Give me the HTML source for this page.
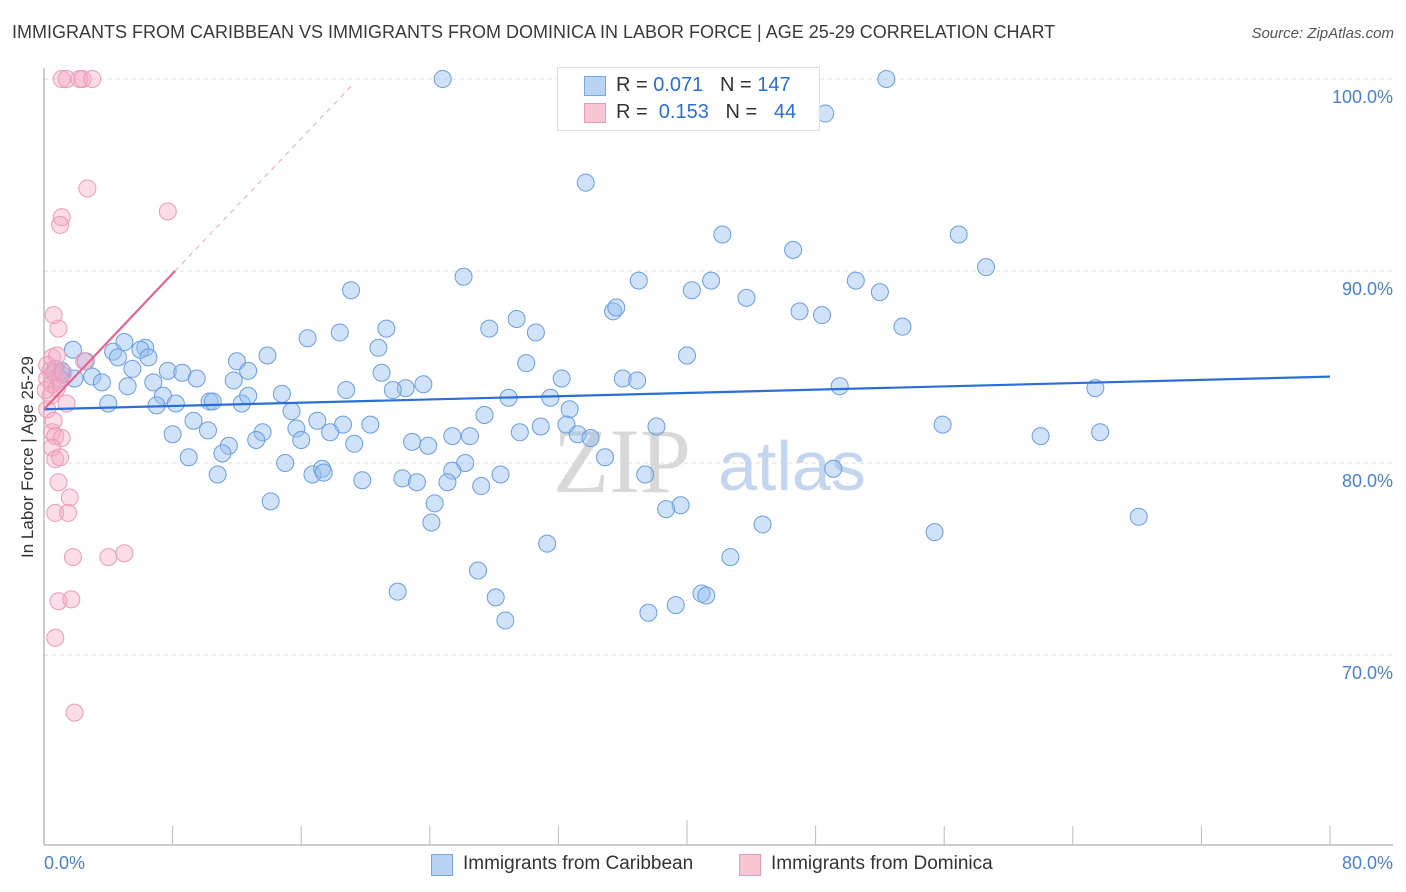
<!DOCTYPE html>
<html><head><meta charset="utf-8">
<style>
body{margin:0;background:#fff;font-family:"Liberation Sans",sans-serif;}
#wrap{position:relative;width:1406px;height:892px;overflow:hidden;}
.t{position:absolute;white-space:nowrap;}
</style></head>
<body>
<div id="wrap">
<div class="t" style="left:12px;top:22px;font-size:18px;color:#3a3a3a;">IMMIGRANTS FROM CARIBBEAN VS IMMIGRANTS FROM DOMINICA IN LABOR FORCE | AGE 25-29 CORRELATION CHART</div>
<div class="t" style="right:12px;top:25px;font-size:15px;color:#555;font-style:italic;">Source: ZipAtlas.com</div>
<svg id="chart" width="1406" height="892" style="position:absolute;left:0;top:0"></svg>
</div>
<script>
const blueX=[24.8,52.4,48.6,33.7,42.2,56.9,46.6,26.1,58.6,37.0,41.5,40.3,19.1,52.0,43.7,50.5,35.4,35.6,47.0,48.4,29.4,53.4,27.7,18.4,21.3,16.4,30.6,20.8,1.8,40.0,4.3,5.0,6.3,6.0,6.5,13.9,12.0,30.0,2.6,4.6,5.5,7.7,8.6,12.7,9.5,11.8,21.0,0.6,1.1,3.0,1.0,3.6,5.2,6.8,23.6,22.5,21.7,18.8,14.8,36.0,36.9,32.2,49.5,65.4,28.9,31.5,7.4,8.2,4.0,7.0,10.3,10.5,12.3,12.7,15.4,27.4,32.7,17.0,9.3,18.6,10.2,15.7,20.3,17.8,13.6,29.6,30.9,32.5,38.1,55.9,62.0,65.7,8.0,22.9,23.9,25.4,26.5,33.2,34.0,16.0,19.3,13.2,11.5,11.1,9.0,15.0,34.9,26.2,10.8,16.7,17.3,17.4,28.4,25.4,22.3,23.2,19.8,25.1,27.2,37.4,49.1,24.3,14.1,39.6,38.7,68.1,44.7,24.1,55.4,31.3,42.7,27.0,22.0,28.1,40.9,41.2,39.3,37.6,28.7,1.9,1.1,0.7];
const blueY=[100,100,98.2,94.6,91.9,91.9,91.1,89.7,90.2,89.5,89.5,89.0,89.0,88.9,88.6,89.5,87.9,88.1,87.9,87.7,87.5,87.1,87.0,86.8,87.0,86.5,86.8,86.0,85.9,85.6,85.8,86.3,86.0,85.9,85.5,85.6,85.3,85.2,85.3,85.5,84.9,84.8,84.7,84.8,84.4,84.3,84.7,84.7,84.6,84.5,84.4,84.2,84.0,84.2,84.1,83.9,83.8,83.8,83.6,84.4,84.3,84.4,84.0,83.9,83.4,83.4,83.5,83.1,83.1,83.0,83.2,83.2,83.1,83.5,82.7,82.5,82.8,82.2,82.2,82.0,81.7,81.8,82.0,81.6,81.6,81.6,81.9,82.0,81.9,82.0,81.4,81.6,81.5,81.1,80.9,81.4,81.4,81.5,81.3,81.2,81.0,81.2,80.9,80.5,80.3,80.0,80.3,80.0,79.4,79.4,79.7,79.5,79.4,79.6,79.2,79.0,79.1,79.0,78.8,79.4,79.7,77.9,78.0,77.8,77.6,77.2,76.8,76.9,76.4,75.8,75.1,74.4,73.3,73.0,73.2,73.1,72.6,72.2,71.8,84.4,84.8,84.9];
const pinkX=[1.1,1.4,2.2,2.4,3.0,2.7,7.7,1.1,1.0,0.6,0.9,0.5,0.8,2.5,0.4,0.7,0.2,1.0,0.5,0.8,1.4,0.2,0.5,0.7,1.1,0.5,0.7,1.0,0.9,1.6,0.7,1.5,1.8,4.0,5.0,0.9,1.7,0.7,1.9,0.4,0.2,0.6,0.1,1.2];
const pinkY=[100,100,100,100,100,94.3,93.1,92.8,92.4,87.7,87.0,85.5,85.6,85.3,84.8,84.7,84.4,84.3,84.1,83.9,83.1,82.8,81.6,81.4,81.3,80.8,80.2,80.3,79.0,78.2,77.4,77.4,75.1,75.1,75.3,72.8,72.9,70.9,67.0,83.5,85.1,82.2,83.8,84.7];
const blueTrend=[82.8,84.5];
const pinkTrend=[82.8,90.0,99.8];
const pinkTrendX=[0,8.15,19.3];
const yTicks=[100,90,80,70];
const yTickLabels=["100.0%","90.0%","80.0%","70.0%"];
const xTicks=[0,8,16,24,32,40,48,56,64,72,80];

const X=v=>44+v*(1286/80);
const Y=v=>79+(100-v)*19.2;
const svg=document.getElementById('chart');
const NS='http://www.w3.org/2000/svg';
function mk(tag,attrs,parent){const e=document.createElementNS(NS,tag);for(const k in attrs)e.setAttribute(k,attrs[k]);(parent||svg).appendChild(e);return e;}

// gridlines + y labels
yTicks.forEach((t,i)=>{
  const g=mk('line',{x1:44,x2:1393,y1:Y(t),y2:Y(t),stroke:'#dcdcdc','stroke-dasharray':'4,4','stroke-width':1});
  
  
  const l=mk('text',{x:1393,y:Y(t)+24,'text-anchor':'end','font-size':18,fill:'#4a7fd4','font-family':'Liberation Sans, sans-serif'});
  l.textContent=yTickLabels[i];
  
  
});
// axes
const ax=mk('line',{x1:44,x2:44,y1:68,y2:845,stroke:'#bbb','stroke-width':1.5});


const bx=mk('line',{x1:44,x2:1393,y1:845,y2:845,stroke:'#bbb','stroke-width':1.5});


xTicks.forEach(t=>{
  const tk=mk('line',{x1:X(t),x2:X(t),y1:t===40?820:826,y2:845,stroke:'#bbb','stroke-width':1});
  
  
});
// watermark
const wm=mk('text',{x:553,y:492,'font-size':92,fill:'#d8d8d8','font-family':'Liberation Serif, serif'});
wm.textContent='ZIP';


const wm2=mk('text',{x:718,y:490,'font-size':70,fill:'#c4d6ef','font-family':'Liberation Sans, sans-serif'});
wm2.textContent='atlas';



// points
blueX.forEach((x,i)=>{
  const c=mk('circle',{cx:X(x),cy:Y(blueY[i]),r:8.5,fill:'rgba(150,190,240,0.45)',stroke:'#6b9de0','stroke-width':1});
  
  
});
pinkX.forEach((x,i)=>{
  const c=mk('circle',{cx:X(x),cy:Y(pinkY[i]),r:8.5,fill:'rgba(245,170,195,0.4)',stroke:'#ec9ab5','stroke-width':1});
  
  
});
// trend lines
const bl=mk('line',{x1:X(0),x2:X(80),y1:Y(blueTrend[0]),y2:Y(blueTrend[1]),stroke:'#2a6fd6','stroke-width':2.2});


const pl=mk('line',{x1:X(pinkTrendX[0]),x2:X(pinkTrendX[1]),y1:Y(pinkTrend[0]),y2:Y(pinkTrend[1]),stroke:'#e8648e','stroke-width':2.2});


const pd=mk('line',{x1:X(pinkTrendX[1]),x2:X(pinkTrendX[2]),y1:Y(pinkTrend[1]),y2:Y(pinkTrend[2]),stroke:'#eea5bb','stroke-width':1,'stroke-dasharray':'5,5'});


</script>
<div class="t" style="left:28px;top:457px;font-size:17px;color:#333;transform:translate(-50%,-50%) rotate(-90deg);">In Labor Force | Age 25-29</div>
<div style="position:absolute;left:557px;top:67px;width:261px;height:62px;background:rgba(255,255,255,0.9);border:1px solid #ddd;">
  <div style="position:absolute;left:26px;top:8px;width:20px;height:18px;background:#b9d3f5;border:1px solid #7aa6e3;"></div>
  <div class="t" style="left:58px;top:6px;font-size:20px;color:#333;">R = <span style="color:#2a6fd6">0.071</span>&nbsp;&nbsp;&nbsp;N = <span style="color:#2a6fd6">147</span></div>
  <div style="position:absolute;left:26px;top:35px;width:20px;height:18px;background:#f8c5d5;border:1px solid #ec9ab5;"></div>
  <div class="t" style="left:58px;top:33px;font-size:20px;color:#333;">R = &nbsp;<span style="color:#2a6fd6">0.153</span>&nbsp;&nbsp;&nbsp;N = &nbsp;&nbsp;<span style="color:#2a6fd6">44</span></div>
</div>
<div class="t" style="left:44px;top:853px;font-size:18px;color:#4a7fd4;">0.0%</div>
<div class="t" style="right:13px;top:853px;font-size:18px;color:#4a7fd4;">80.0%</div>
<div style="position:absolute;left:431px;top:853px;">
  <div style="position:absolute;left:0;top:1px;width:20px;height:20px;background:#b9d3f5;border:1px solid #7aa6e3;"></div>
  <div class="t" style="left:32px;top:0;font-size:19px;color:#333;">Immigrants from Caribbean</div>
</div>
<div style="position:absolute;left:739px;top:853px;">
  <div style="position:absolute;left:0;top:1px;width:20px;height:20px;background:#f8c5d5;border:1px solid #ec9ab5;"></div>
  <div class="t" style="left:32px;top:0;font-size:19px;color:#333;">Immigrants from Dominica</div>
</div>
</body></html>
